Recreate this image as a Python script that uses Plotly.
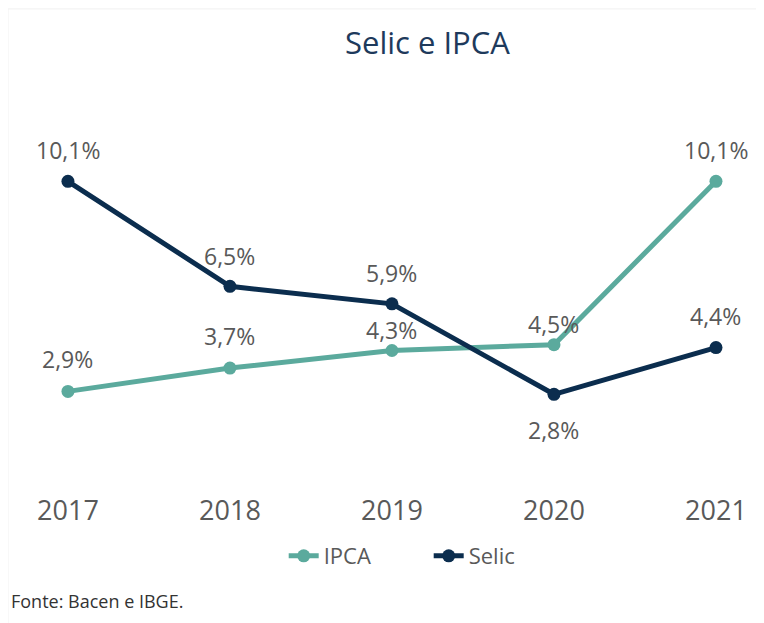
import plotly.graph_objects as go

anos = [2017, 2018, 2019, 2020, 2021]
ipca = [2.9, 3.7, 4.3, 4.5, 10.1]
selic = [10.1, 6.5, 5.9, 2.8, 4.4]

cor_ipca = '#5BAA9D'
cor_selic = '#0B2D4E'
cinza = '#595959'

# deslocamento vertical (px) de cada rótulo
shift_ipca = [32, 32, 21, 21, 31]
shift_selic = [31, 30, 31, -36, 32]

fig = go.Figure()
fig.add_trace(go.Scatter(x=anos, y=ipca, name='IPCA', mode='lines+markers',
                         line=dict(color=cor_ipca, width=5),
                         marker=dict(size=13, color=cor_ipca)))
fig.add_trace(go.Scatter(x=anos, y=selic, name='Selic', mode='lines+markers',
                         line=dict(color=cor_selic, width=5),
                         marker=dict(size=13, color=cor_selic)))

def fmt(v):
    return f'{v:.1f}%'.replace('.', ',')

for serie, shifts in [(ipca, shift_ipca), (selic, shift_selic)]:
    for a, v, s in zip(anos, serie, shifts):
        fig.add_annotation(x=a, y=v, text=fmt(v), showarrow=False, yshift=s,
                           font=dict(family='Open Sans', size=23, color=cinza))

fig.add_annotation(text='Selic e IPCA', xref='paper', yref='paper', x=0.5635, y=1,
                   yanchor='middle', yshift=78, showarrow=False,
                   font=dict(family='Open Sans', size=31, color='#1E3A5C'))
fig.add_annotation(text='Fonte: Bacen e IBGE.', xref='paper', yref='paper', x=-0.015,
                   xanchor='left', y=0, yanchor='middle', yshift=-125, showarrow=False,
                   font=dict(family='Open Sans', size=18, color='#333333'))

fig.update_layout(
    width=764, height=623,
    paper_bgcolor='white', plot_bgcolor='white',
    margin=dict(l=12, r=28, t=112, b=155),
    showlegend=True,
    legend=dict(orientation='h', x=0.5645, xanchor='center', y=-0.2247, yanchor='middle',
                font=dict(family='Open Sans', size=22, color=cinza), itemwidth=30,
                entrywidth=100),
    xaxis=dict(range=[2016.704, 2021.173], tickvals=anos, ticktext=[str(a) for a in anos],
               showgrid=False, zeroline=False, showline=False,
               ticks='outside', ticklen=11, tickcolor='rgba(0,0,0,0)',
               tickfont=dict(family='Open Sans', size=27, color=cinza)),
    yaxis=dict(range=[0, 12.2], visible=False),
    shapes=[dict(type='line', xref='paper', yref='paper', x0=-0.0166, x1=1.04, y0=1.312,
                 y1=1.312, line=dict(color='#F0F0F0', width=1)),
            dict(type='line', xref='paper', yref='paper', x0=-0.0166, x1=-0.0166, y0=-0.43,
                 y1=1.312, line=dict(color='#F0F0F0', width=1))],
)

fig.write_html('out.html')
